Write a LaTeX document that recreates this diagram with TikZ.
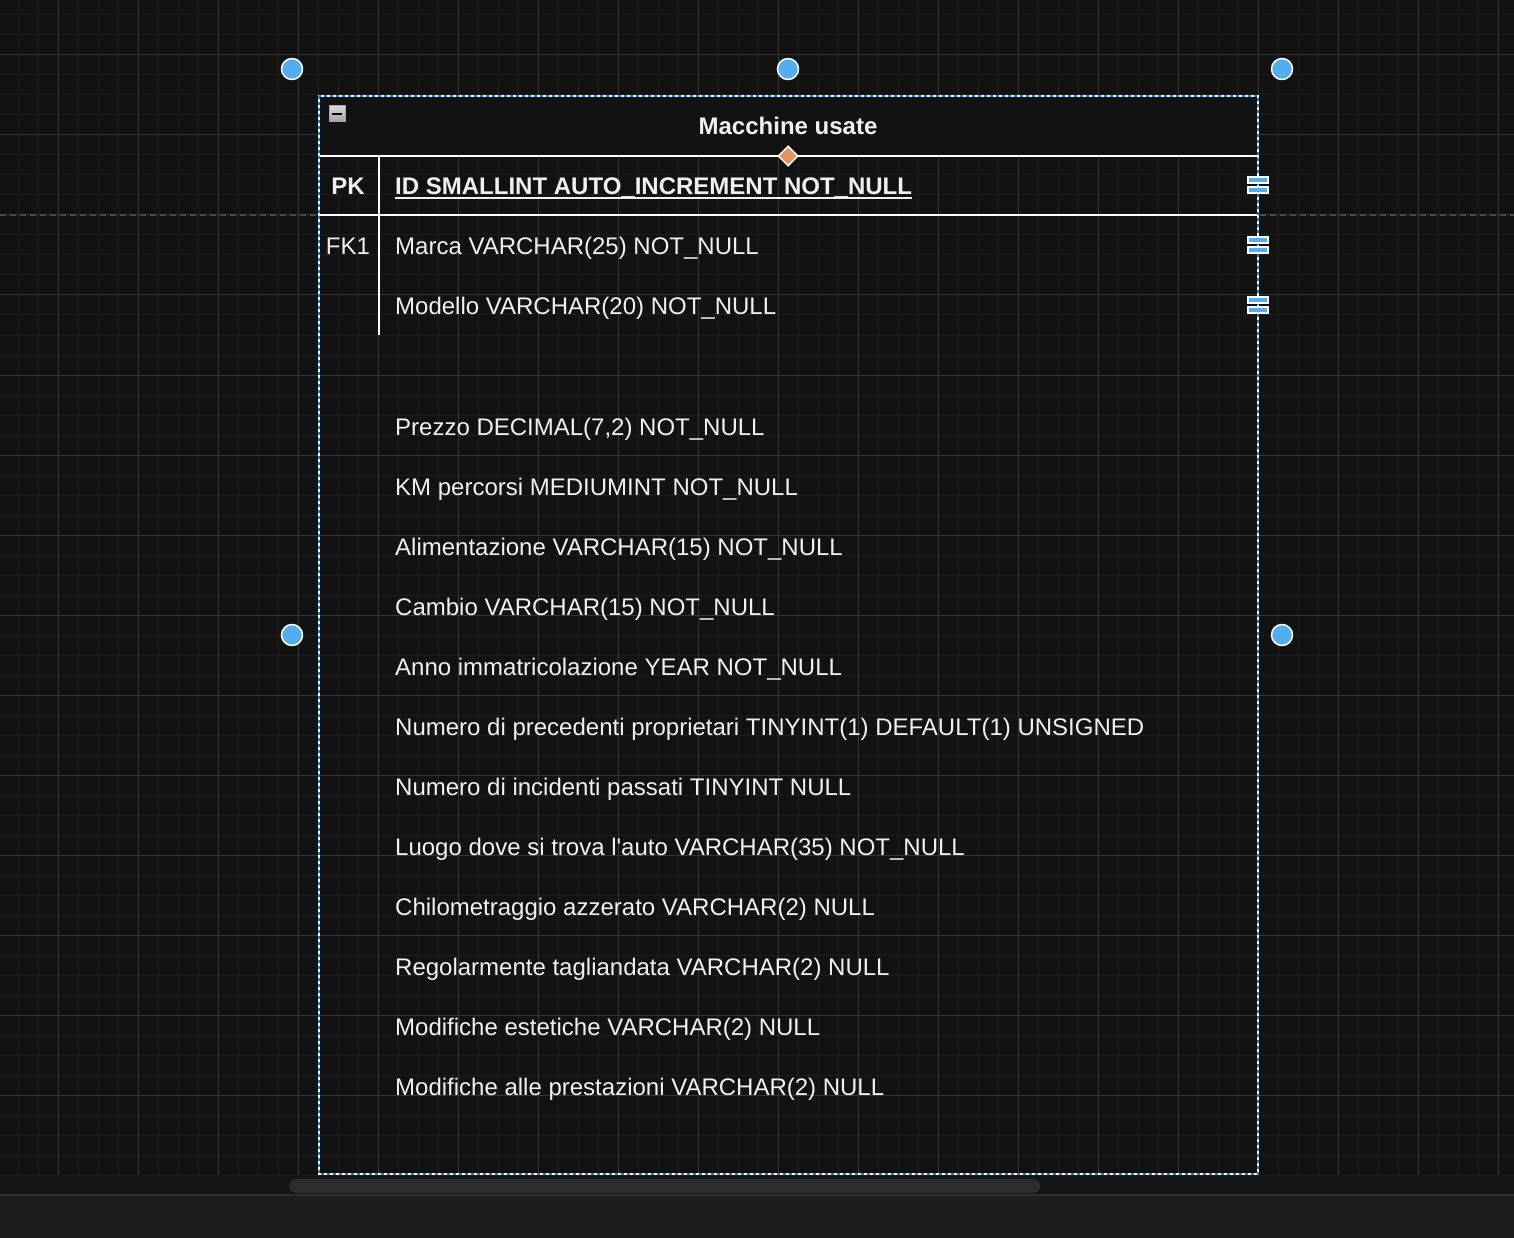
\documentclass[tikz,border=0pt]{standalone}
\usepackage{fontspec}
\setmainfont{Liberation Sans}
\newfontfamily\aposfont{Liberation Sans}[Ligatures=TeXOff]
\usetikzlibrary{shapes.geometric}
\definecolor{bg}{HTML}{121212}
\definecolor{minorg}{HTML}{1D1D1D}
\definecolor{majorg}{HTML}{363636}
\definecolor{strip}{HTML}{151515}
\definecolor{sepline}{HTML}{2E2E31}
\definecolor{bottomc}{HTML}{1C1D1F}
\definecolor{scrollc}{HTML}{2D2D2D}
\definecolor{txt}{HTML}{F0F0F0}
\definecolor{handleblue}{HTML}{52AEEC}
\definecolor{selblue}{HTML}{2A78C8}
\definecolor{orangec}{HTML}{E8935A}
\definecolor{pbreak}{HTML}{4A4A4A}
\begin{document}
\begin{tikzpicture}[x=1pt,y=-1pt,
  fieldtxt/.style={anchor=base west,inner sep=0pt,text=txt,font=\fontsize{24}{28}\selectfont},
  keytxt/.style={anchor=base,inner sep=0pt,text=txt,font=\fontsize{24}{28}\selectfont},
  titletxt/.style={anchor=base,inner sep=0pt,text=txt,font=\fontsize{24}{28}\selectfont\bfseries},
  rowline/.style={draw=white,line width=2pt},
  handle/.style={circle,fill=handleblue,draw=white,line width=1.5pt,minimum size=21pt,inner sep=0pt},
  barbox/.style={rectangle,fill=handleblue,draw=white,line width=2pt,minimum width=20pt,minimum height=6.5pt,inner sep=0pt},
]
\useasboundingbox (0,0) rectangle (1514,1238);
% canvas and bottom chrome
\fill[bg] (0,0) rectangle (1514,1175);
\fill[strip] (0,1175) rectangle (1514,1194);
\fill[sepline] (0,1194) rectangle (1514,1196);
\fill[bottomc] (0,1196) rectangle (1514,1238);
\fill[scrollc,rounded corners=7pt] (289,1179) rectangle (1040,1193);
% grid
\foreach \x in {18,38,...,1498} \draw[minorg,line width=1pt] (\x,0) -- (\x,1175);
\foreach \y in {15,35,...,1175} \draw[minorg,line width=1pt] (0,\y) -- (1514,\y);
\foreach \x in {58,138,...,1498} \draw[majorg,line width=1pt] (\x,0) -- (\x,1175);
\foreach \y in {55,135,...,1135} \draw[majorg,line width=1pt] (0,\y) -- (1514,\y);
% page break
\draw[pbreak,line width=1.2pt,dash pattern=on 6pt off 4pt] (0,215) -- (1514,215);
% table
\coordinate (tl) at (319,96);
\coordinate (br) at (1258,1174);
\fill[bg] (319,96) rectangle (1258,156);
\draw[rowline] (319,156) -- (1258,156);
\draw[rowline] (319,215) -- (1258,215);
\draw[rowline] (379,156) -- (379,335);
\draw[white,line width=1.5pt] (tl) rectangle (br);
\draw[selblue,line width=1.5pt,dash pattern=on 3pt off 3pt] (tl) rectangle (br);
% title
\node[titletxt] (title) at (788,135) {Macchine usate};
% collapse icon
\node[draw=gray!70,line width=1pt,top color=gray!30,bottom color=gray!75,minimum size=16pt,inner sep=0pt] (collapse) at (337,114) {};
\draw[black,line width=2pt] ([xshift=-5pt]collapse.center) -- ([xshift=5pt]collapse.center);
% keys
\node[keytxt,font=\fontsize{24}{28}\selectfont\bfseries] (pk) at (348,195) {PK};
\node[keytxt] (fk) at (348,255) {FK1};
% fields
\node[fieldtxt,font=\fontsize{24}{28}\selectfont\bfseries] (f0) at (395,195) {ID SMALLINT AUTO\_INCREMENT NOT\_NULL};
\draw[txt,line width=2pt] ([yshift=-3.5pt]f0.base west) -- ([yshift=-3.5pt]f0.base east);
\node[fieldtxt] (f1) at (395,255) {Marca VARCHAR(25) NOT\_NULL};
\node[fieldtxt] (f2) at (395,315) {Modello VARCHAR(20) NOT\_NULL};
\node[fieldtxt] (f3) at (395,435) {Prezzo DECIMAL(7,2) NOT\_NULL};
\node[fieldtxt] (f4) at (395,495) {KM percorsi MEDIUMINT NOT\_NULL};
\node[fieldtxt] (f5) at (395,555) {Alimentazione VARCHAR(15) NOT\_NULL};
\node[fieldtxt] (f6) at (395,615) {Cambio VARCHAR(15) NOT\_NULL};
\node[fieldtxt] (f7) at (395,675) {Anno immatricolazione YEAR NOT\_NULL};
\node[fieldtxt] (f8) at (395,735) {Numero di precedenti proprietari TINYINT(1) DEFAULT(1) UNSIGNED};
\node[fieldtxt] (f9) at (395,795) {Numero di incidenti passati TINYINT NULL};
\node[fieldtxt] (f10) at (395,855) {Luogo dove si trova l{\aposfont'}auto VARCHAR(35) NOT\_NULL};
\node[fieldtxt] (f11) at (395,915) {Chilometraggio azzerato VARCHAR(2) NULL};
\node[fieldtxt] (f12) at (395,975) {Regolarmente tagliandata VARCHAR(2) NULL};
\node[fieldtxt] (f13) at (395,1035) {Modifiche estetiche VARCHAR(2) NULL};
\node[fieldtxt] (f14) at (395,1095) {Modifiche alle prestazioni VARCHAR(2) NULL};
% selection handles
\node[handle] (h1) at (292,69) {};
\node[handle] (h2) at (788,69) {};
\node[handle] (h3) at (1282,69) {};
\node[handle] (h4) at (292,635) {};
\node[handle] (h5) at (1282,635) {};
\node[diamond,fill=orangec,draw=white,line width=1.5pt,minimum size=20pt,inner sep=0pt] (dia) at (788,156) {};
% row handles
\foreach \yy/\nm in {185/a,245/b,305/c}{
  \node[barbox] (bt\nm) at (1258,\yy-5) {};
  \node[barbox] (bb\nm) at (1258,\yy+5) {};
}
\end{tikzpicture}
\end{document}
